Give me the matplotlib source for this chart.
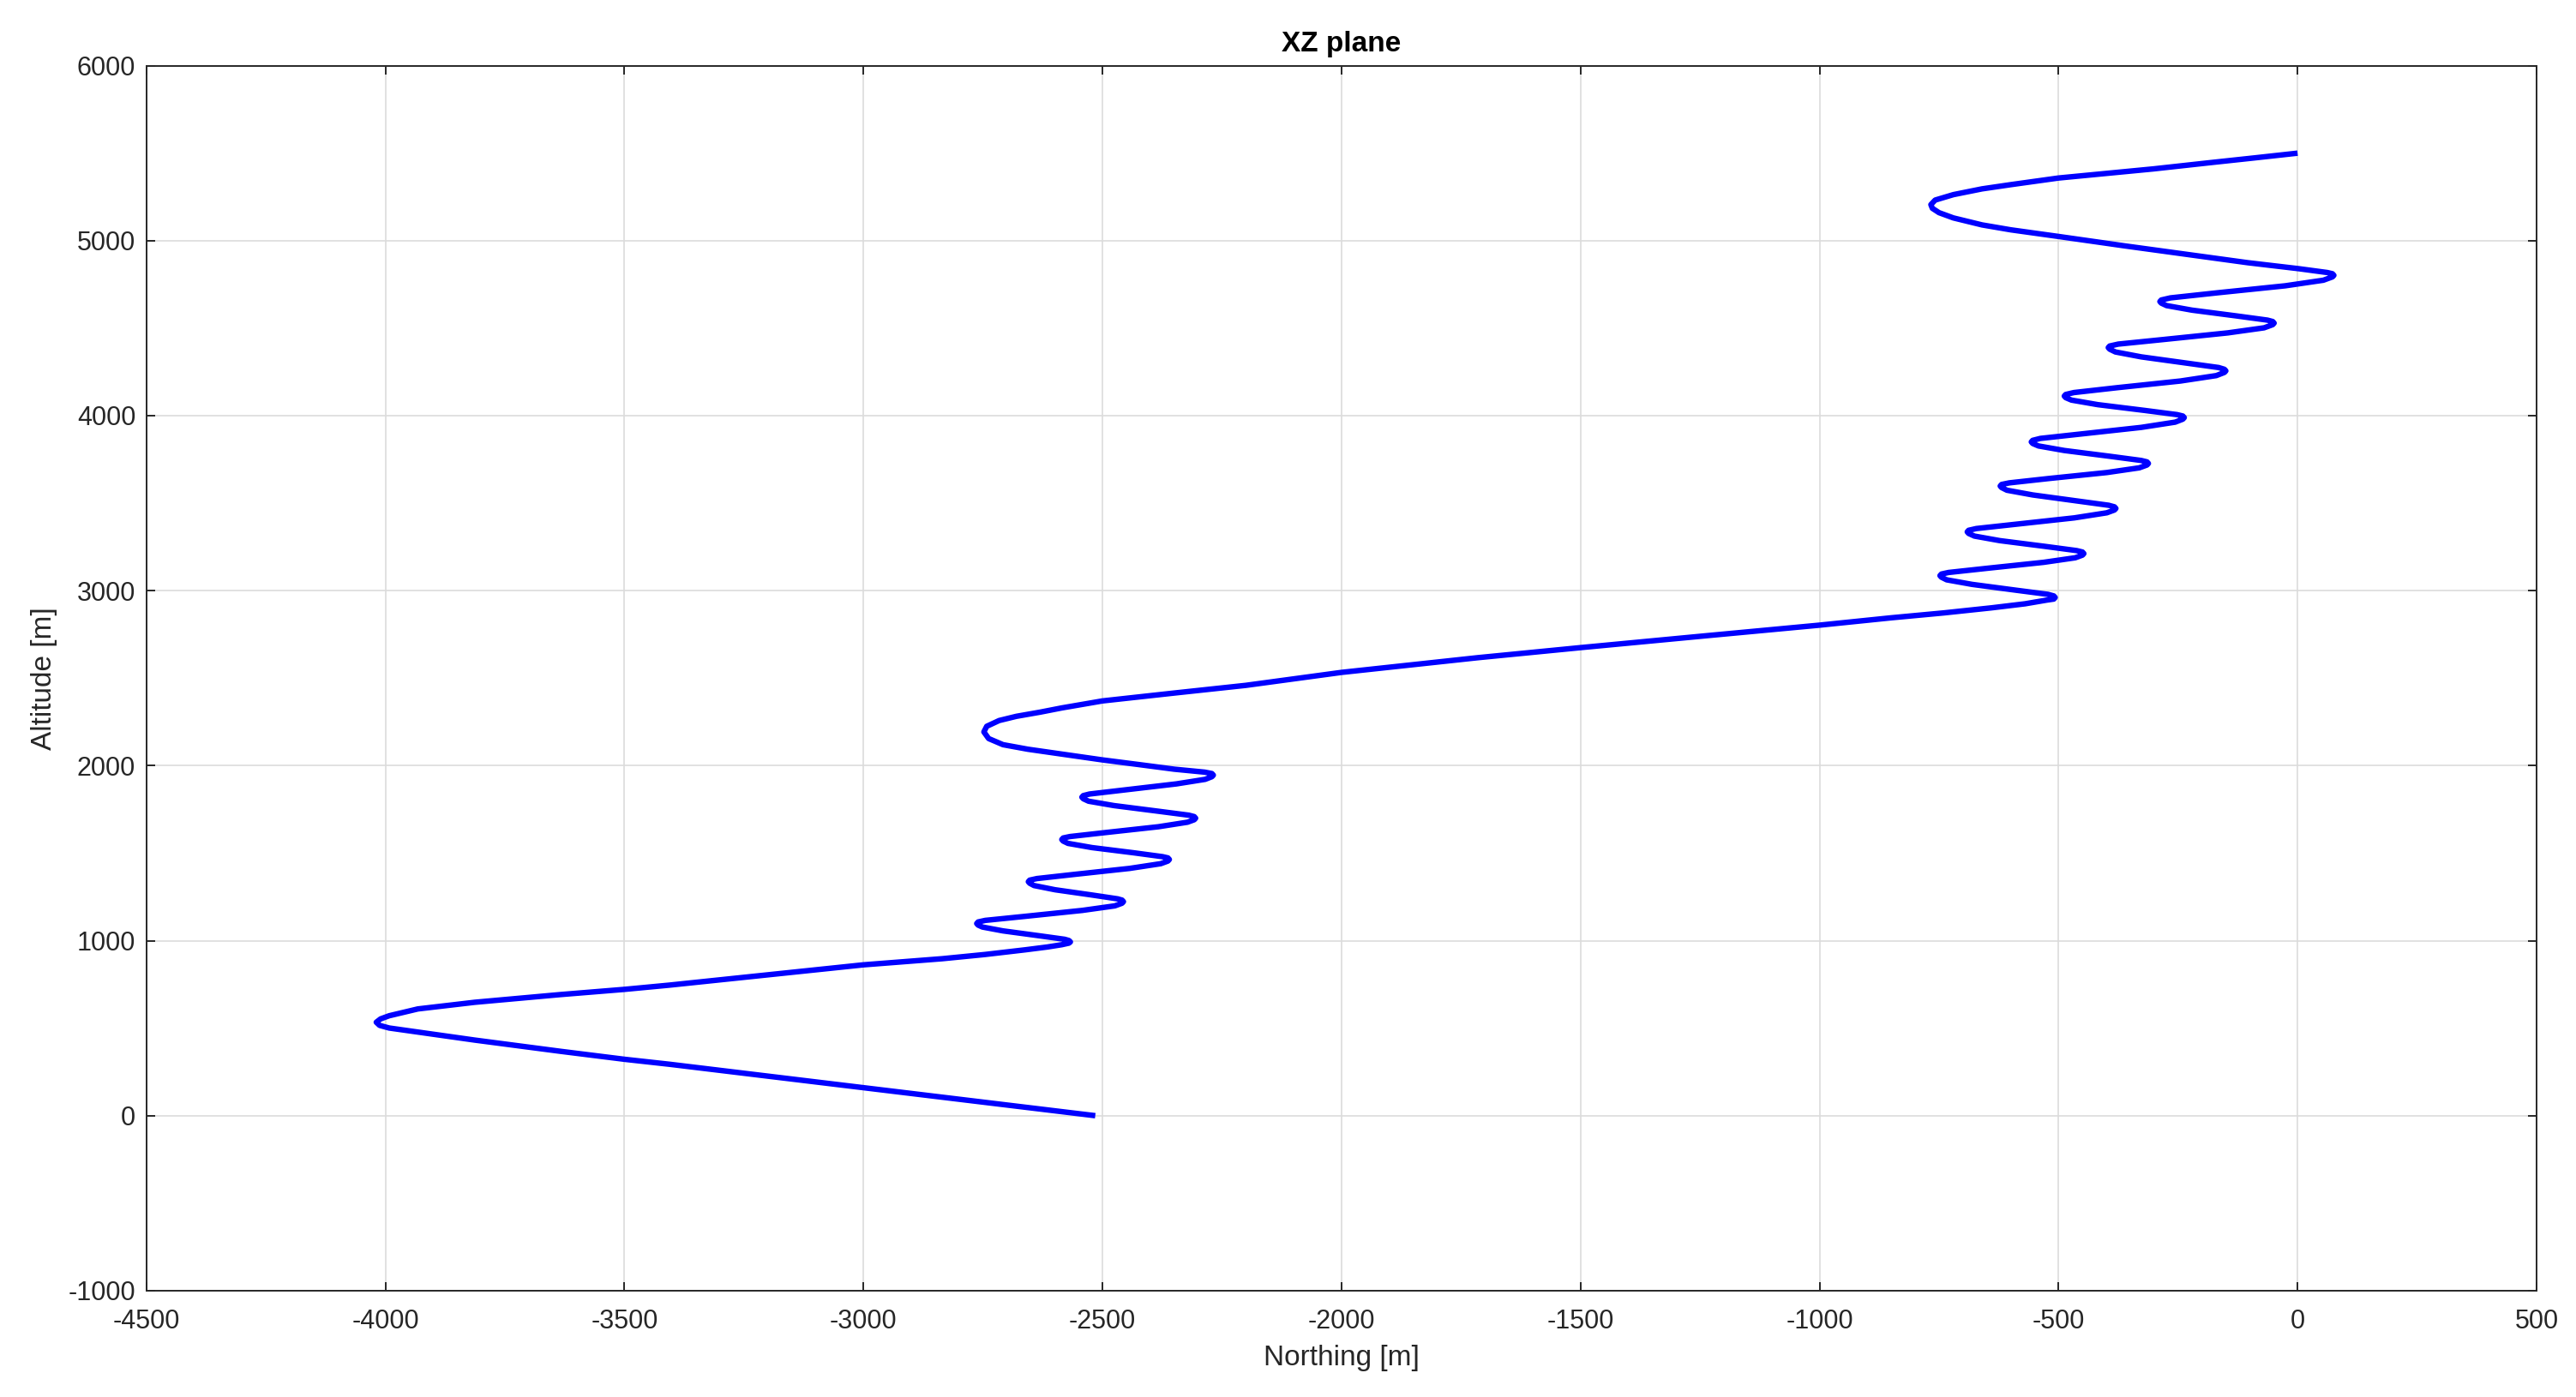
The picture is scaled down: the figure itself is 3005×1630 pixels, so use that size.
import matplotlib
matplotlib.use('Agg')
import matplotlib.pyplot as plt

# trajectory points, from the ground (start) upwards
northing = [
    -2515, -3000, -3406, -3499, -3634, -3813, -3932, -3992, -4012, -4019,
    -4010, -3992, -3932, -3813, -3634, -3499, -3406, -3000, -2835, -2746,
    -2661, -2615, -2585, -2570, -2567, -2570,
    -2579, -2632, -2708, -2751, -2760, -2763, -2760,
    -2745, -2662, -2542, -2474, -2459, -2456, -2459,
    -2468, -2522, -2599, -2643, -2652, -2655, -2652,
    -2637, -2558, -2443, -2378, -2363, -2360, -2363,
    -2374, -2434, -2522, -2572, -2582, -2585, -2582,
    -2568, -2493, -2383, -2322, -2308, -2305, -2308,
    -2319, -2384, -2476, -2529, -2540, -2543, -2540,
    -2527, -2452, -2345, -2285, -2271, -2268, -2271,
    -2286, -2350, -2420, -2500, -2590, -2656, -2708, -2738, -2748, -2742,
    -2716, -2680, -2630, -2585, -2500, -2350, -2200, -2000, -1715, -1502,
    -1235, -1000, -850, -740, -640, -570, -525, -510, -507, -510,
    -522, -587, -681, -734, -745, -748, -745,
    -730, -649, -531, -465, -450, -447, -450,
    -462, -528, -623, -676, -688, -691, -688,
    -672, -588, -467, -399, -383, -380, -383,
    -395, -460, -554, -608, -619, -622, -619,
    -603, -520, -399, -331, -315, -312, -315,
    -327, -393, -488, -542, -554, -557, -554,
    -538, -451, -327, -256, -240, -237, -240,
    -252, -320, -418, -473, -485, -488, -485,
    -468, -377, -245, -170, -153, -150, -153,
    -165, -231, -327, -381, -393, -396, -393,
    -375, -281, -146, -70, -52, -49, -52,
    -63, -128, -221, -274, -285, -288, -285,
    -266, -168, -26, 54, 73, 76, 73,
    62, 35, 2, -104, -182, -361, -500, -600, -660, -720,
    -750, -764, -767, -758, -720, -660, -600, -500, -302, -182,
    -90, 0,
]
altitude = [
    0, 160, 294, 322, 368, 432, 478, 501, 516, 534,
    553, 571, 610, 648, 692, 722, 746, 862, 897, 921,
    948, 964, 977, 986, 993, 1001,
    1008, 1028, 1056, 1078, 1089, 1098, 1107,
    1116, 1139, 1173, 1199, 1214, 1223, 1232,
    1239, 1261, 1291, 1315, 1328, 1337, 1346,
    1355, 1379, 1413, 1440, 1455, 1464, 1473,
    1480, 1502, 1532, 1556, 1569, 1578, 1587,
    1595, 1618, 1651, 1677, 1691, 1700, 1709,
    1717, 1740, 1772, 1797, 1811, 1820, 1829,
    1838, 1862, 1896, 1922, 1937, 1946, 1955,
    1963, 1980, 2005, 2033, 2068, 2094, 2120, 2155, 2193, 2225,
    2258, 2282, 2306, 2330, 2370, 2415, 2459, 2533, 2617, 2674,
    2743, 2803, 2845, 2873, 2902, 2925, 2946, 2952, 2961, 2970,
    2979, 3002, 3036, 3062, 3077, 3086, 3095,
    3104, 3128, 3162, 3188, 3203, 3212, 3221,
    3229, 3253, 3286, 3312, 3327, 3336, 3345,
    3355, 3380, 3416, 3445, 3461, 3470, 3479,
    3488, 3512, 3547, 3574, 3589, 3598, 3607,
    3616, 3641, 3675, 3702, 3718, 3727, 3736,
    3744, 3768, 3801, 3827, 3841, 3850, 3859,
    3870, 3896, 3933, 3963, 3980, 3989, 3998,
    4006, 4030, 4063, 4089, 4103, 4112, 4121,
    4132, 4160, 4198, 4229, 4247, 4256, 4265,
    4275, 4300, 4336, 4364, 4380, 4389, 4398,
    4409, 4435, 4473, 4502, 4520, 4529, 4538,
    4546, 4570, 4603, 4629, 4643, 4652, 4661,
    4673, 4702, 4742, 4774, 4793, 4802, 4811,
    4818, 4828, 4840, 4874, 4903, 4970, 5024, 5062, 5090, 5130,
    5160, 5185, 5206, 5232, 5263, 5296, 5320, 5358, 5410, 5446,
    5473, 5500,
]

xticks = list(range(-4500, 501, 500))
yticks = list(range(-1000, 6001, 1000))

plt.rcParams['font.family'] = ['Liberation Sans', 'DejaVu Sans']
plt.rcParams['axes.unicode_minus'] = False

fig = plt.figure(figsize=(30.05, 16.30), dpi=100)
ax = fig.add_axes([0.0568, 0.0761, 0.9279, 0.8769])

ax.plot(northing, altitude, color='#0000ff', linewidth=4.6,
        solid_joinstyle='round', solid_capstyle='butt')

ax.set_xlim(-4500, 500)
ax.set_ylim(-1000, 6000)
ax.set_xticks(xticks)
ax.set_yticks(yticks)
ax.grid(True, color='#dcdcdc', linewidth=1.2)
ax.set_axisbelow(True)

for side in ax.spines.values():
    side.set_color('#262626')
    side.set_linewidth(1.4)
ax.tick_params(direction='in', length=7, width=1.4, color='#262626',
               labelcolor='#262626', labelsize=22, top=True, right=True)
ax.tick_params(axis='x', pad=15)
ax.tick_params(axis='y', pad=9)

ax.set_title('XZ plane', fontsize=24, fontweight='bold', pad=12)
ax.set_xlabel('Northing [m]', fontsize=24, color='#262626', labelpad=9)
ax.set_ylabel('Altitude [m]', fontsize=24, color='#262626', labelpad=9)

plt.savefig('out.png', dpi=100)
